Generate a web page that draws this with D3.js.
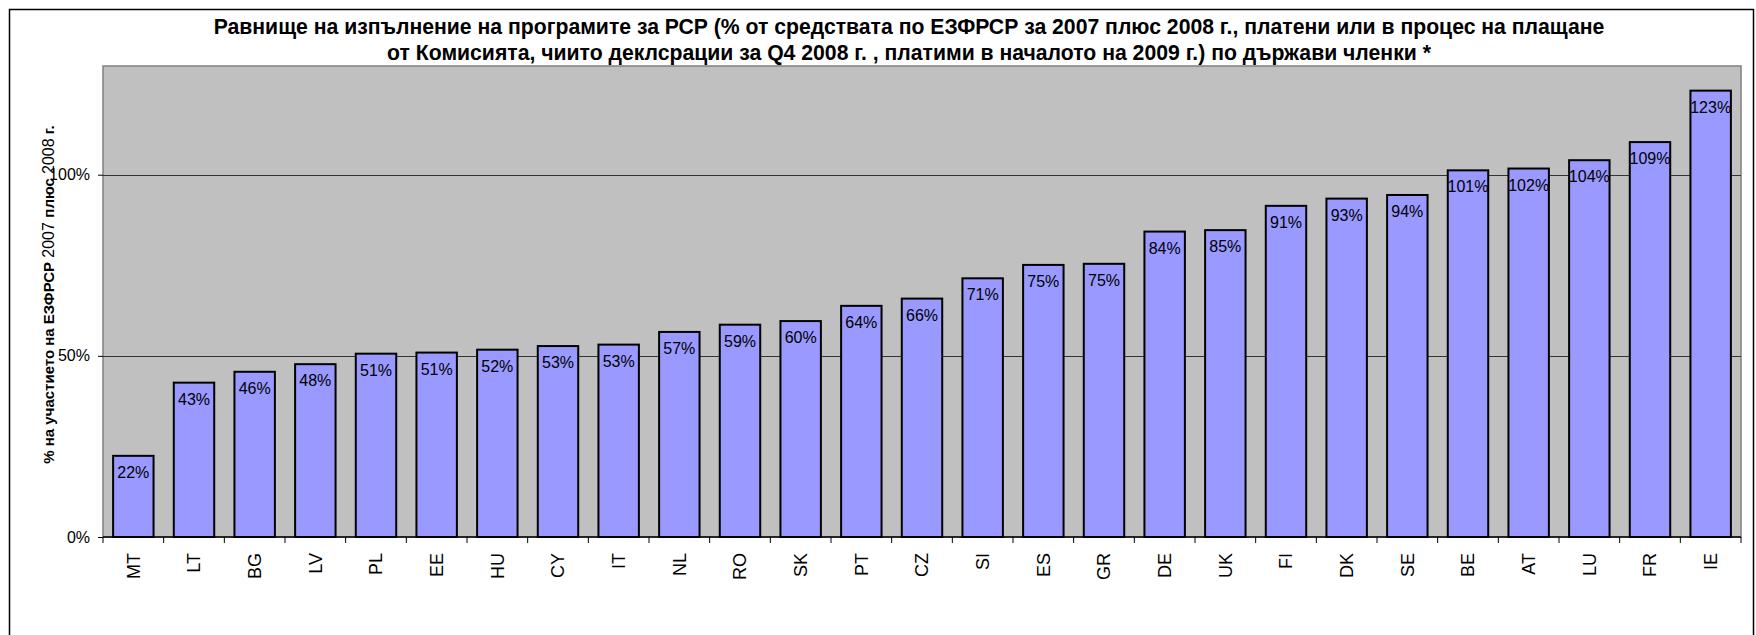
<!DOCTYPE html>
<html>
<head>
<meta charset="utf-8">
<script src="https://cdnjs.cloudflare.com/ajax/libs/d3/7.8.5/d3.min.js"></script>
<style>
  html, body { margin: 0; padding: 0; background: #ffffff; }
  svg { display: block; font-family: "Liberation Sans", Arial, sans-serif; }
</style>
</head>
<body>
<div id="chart"></div>
<script>
// Data
var countries = ["MT", "LT", "BG", "LV", "PL", "EE", "HU", "CY", "IT", "NL", "RO", "SK", "PT", "CZ",
  "SI", "ES", "GR", "DE", "UK", "FI", "DK", "SE", "BE", "AT", "LU", "FR", "IE"];
var execution = [22.4, 42.6, 45.6, 47.7, 50.6, 50.9, 51.7, 52.7, 53.1, 56.6, 58.6, 59.6, 63.8, 65.8,
  71.4, 75.1, 75.4, 84.3, 84.7, 91.4, 93.4, 94.4, 101.2, 101.7, 104.0, 109.0, 123.2];
var yTicks = [0, 50, 100];
var titleLines = [
  "Равнище на изпълнение на програмите за РСР (% от средствата по ЕЗФРСР за 2007 плюс 2008 г., платени или в процес на плащане",
  "от Комисията, чиито деклсрации за Q4 2008 г. , платими в началото на 2009 г.) по държави членки *"
];
// Y label pieces: [text, bold]
var yLabelParts = [
  ["% на участието на ЕЗФРСР ", true],
  ["2007 ", false],
  ["плюс ", true],
  ["2008", false],
  [" г.", true]
];

// Sizes
var width = 1756, height = 635;
var margin = { left: 103, top: 66, right: 15, bottom: 98 };

var svg = d3.select("#chart").append("svg")
  .attr("width", width)
  .attr("height", height);

// Outer chart border
svg.append("rect")
  .attr("x", 9.5).attr("y", 9.5)
  .attr("width", 1744).attr("height", 640)
  .style("fill", "none").style("stroke", "#000").style("stroke-width", 1.5);

// Scales
var x = d3.scaleBand().domain(countries).range([margin.left, width - margin.right]).padding(0);
var y = d3.scaleLinear().domain([0, 130]).range([height - margin.bottom, margin.top]);
var bw = x.bandwidth();

// Plot background
svg.append("rect")
  .attr("x", x.range()[0]).attr("y", y(130))
  .attr("width", x.range()[1] - x.range()[0]).attr("height", y(0) - y(130))
  .style("fill", "#c0c0c0").style("stroke", "#808080").style("stroke-width", 1.5);

// Gridlines
svg.selectAll("line.grid").data(yTicks.filter(function (d) { return d > 0; }))
  .enter().append("line").attr("class", "grid")
  .attr("x1", x.range()[0]).attr("x2", x.range()[1])
  .attr("y1", function (d) { return Math.round(y(d)) + 0.5; })
  .attr("y2", function (d) { return Math.round(y(d)) + 0.5; })
  .style("stroke", "#333").style("stroke-width", 1);

// Bars
var bars = svg.selectAll("g.bar").data(countries).enter().append("g").attr("class", "bar");
bars.append("rect")
  .attr("x", function (d) { return x(d) + bw / 6; })
  .attr("y", function (d, i) { return y(execution[i]); })
  .attr("width", bw * 2 / 3)
  .attr("height", function (d, i) { return y(0) - y(execution[i]); })
  .style("fill", "#9999ff").style("stroke", "#000").style("stroke-width", 2);

// Value labels
bars.append("text")
  .attr("x", function (d) { return x(d) + bw / 2; })
  .attr("y", function (d, i) { return y(execution[i]) + 22; })
  .attr("text-anchor", "middle")
  .style("font-size", "16px").style("fill", "#000")
  .text(function (d, i) { return Math.round(execution[i]) + "%"; });

// Y axis
var yAxis = svg.append("g")
  .attr("transform", "translate(" + x.range()[0] + ",0)")
  .call(d3.axisLeft(y).tickValues(yTicks).tickSize(5).tickPadding(8).tickFormat(function (d) { return d + "%"; }));
yAxis.select(".domain").remove();
yAxis.selectAll(".tick line").style("stroke", "#000");
yAxis.selectAll(".tick text").style("font-size", "16px").style("font-family", "Liberation Sans, Arial, sans-serif").style("fill", "#000");

// X axis
var xAxis = svg.append("g").attr("transform", "translate(0," + y(0) + ")");
xAxis.append("line")
  .attr("x1", x.range()[0]).attr("x2", x.range()[1])
  .style("stroke", "#000").style("stroke-width", 1.5);
xAxis.selectAll("line.tick").data(countries.concat(["end"]))
  .enter().append("line").attr("class", "tick")
  .attr("x1", function (d, i) { return x.range()[0] + i * bw; })
  .attr("x2", function (d, i) { return x.range()[0] + i * bw; })
  .attr("y1", 0).attr("y2", 6)
  .style("stroke", "#000");
xAxis.selectAll("text").data(countries).enter().append("text")
  .attr("transform", function (d) { return "translate(" + (x(d) + bw / 2) + ",16) rotate(-90)"; })
  .attr("text-anchor", "end")
  .attr("dy", "0.36em")
  .style("font-size", "18px").style("fill", "#000")
  .text(function (d) { return d; });

// Y axis title
var yTitle = svg.append("text")
  .attr("transform", "translate(54," + ((y(0) + y(130)) / 2 - 7) + ") rotate(-90)")
  .attr("text-anchor", "middle")
  .style("fill", "#000");
yTitle.selectAll("tspan").data(yLabelParts).enter().append("tspan")
  .style("font-weight", function (d) { return d[1] ? "bold" : "normal"; })
  .style("font-size", function (d) { return d[1] ? "15px" : "16px"; })
  .text(function (d) { return d[0]; });

// Chart title
svg.selectAll("text.title").data(titleLines).enter().append("text").attr("class", "title")
  .attr("x", 909)
  .attr("y", function (d, i) { return 34 + i * 26; })
  .attr("text-anchor", "middle")
  .style("font-size", "21.2px").style("font-weight", "bold").style("fill", "#000")
  .text(function (d) { return d; });
</script>
</body>
</html>
